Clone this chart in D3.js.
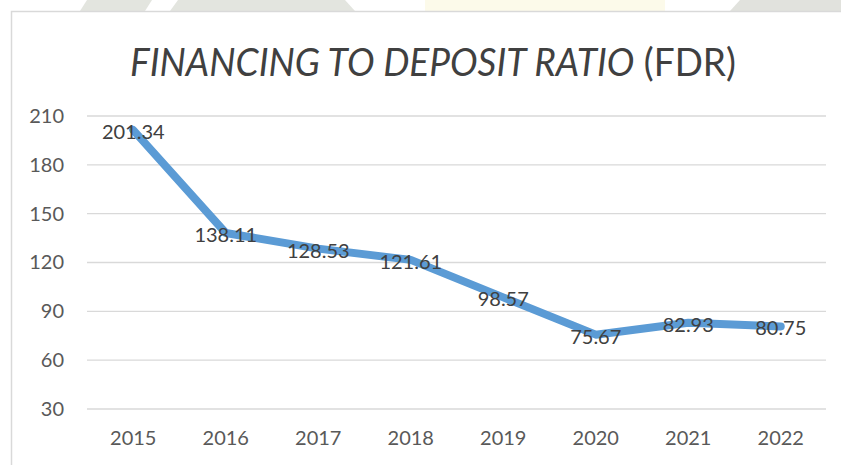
<!DOCTYPE html>
<html>
<head>
<meta charset="utf-8">
<script src="https://cdn.jsdelivr.net/npm/d3@7"></script>
<style>
  body { margin: 0; background: #fff; }
  svg { display: block; }
</style>
</head>
<body>
<main></main>
<script>
const years = ["2015", "2016", "2017", "2018", "2019", "2020", "2021", "2022"];
const fdr = [201.34, 138.11, 128.53, 121.61, 98.57, 75.67, 82.93, 80.75];
const yTicks = [30, 60, 90, 120, 150, 180, 210];

window.onload = () => {
    const width = 841, height = 465;
    const svg = d3.select("main").append("svg").attr("width", width).attr("height", height);

    // faint watermark strip above the chart frame
    const wm = svg.append("g");
    wm.append("polygon").attr("points", "87,0 152,0 145,11 80,11").attr("fill", "#e3e5df");
    wm.append("polygon").attr("points", "178,0 345,0 355,11 170,11").attr("fill", "#e3e5df");
    wm.append("rect").attr("x", 425).attr("y", 0).attr("width", 240).attr("height", 11).attr("fill", "#fcfaea");
    wm.append("polygon").attr("points", "740,0 841,0 841,11 730,11").attr("fill", "#e1e2dd");

    // chart frame
    svg.append("rect").attr("x", 11.5).attr("y", 11.5).attr("width", 900).attr("height", 500)
        .attr("fill", "#fff").attr("stroke", "#d9d9d9").attr("stroke-width", 1.5);

    const x = d3.scaleBand().domain(years).range([87, 827]);
    const y = d3.scaleLinear().domain([30, 210]).range([409, 116]);

    // title (Calibri-like, so squeeze a bit horizontally)
    const title = svg.append("text")
        .attr("transform", "translate(433,76) scale(0.95,1)")
        .attr("text-anchor", "middle")
        .attr("font-family", "Lato, 'Open Sans', sans-serif")
        .attr("font-size", 39)
        .attr("fill", "#404040");
    title.append("tspan").attr("font-style", "italic").text("FINANCING TO DEPOSIT RATIO");
    title.append("tspan").text(" (FDR)");

    // gridlines
    svg.append("g")
        .selectAll("line")
        .data(yTicks)
        .join("line")
        .attr("x1", 87).attr("x2", 826)
        .attr("y1", d => y(d)).attr("y2", d => y(d))
        .attr("stroke", "#d9d9d9").attr("stroke-width", 1.3);

    // y axis labels
    const yAxis = svg.append("g")
        .attr("transform", "translate(64,0)")
        .call(d3.axisLeft(y).tickValues(yTicks).tickSize(0).tickPadding(0));
    yAxis.select(".domain").remove();
    yAxis.selectAll("text")
        .attr("font-family", "Lato, 'Open Sans', sans-serif")
        .attr("font-size", 20)
        .attr("fill", "#595959");

    // x axis labels
    const xAxis = svg.append("g")
        .attr("transform", "translate(0,431)")
        .call(d3.axisBottom(x).tickSize(0).tickPadding(0));
    xAxis.select(".domain").remove();
    xAxis.selectAll("text")
        .attr("font-family", "Lato, 'Open Sans', sans-serif")
        .attr("font-size", 20)
        .attr("fill", "#595959");

    const pts = years.map((yr, i) => ({ year: yr, value: fdr[i] }));

    const line = d3.line()
        .x(d => x(d.year) + x.bandwidth() / 2)
        .y(d => y(d.value));

    svg.append("path")
        .datum(pts)
        .attr("d", line)
        .attr("fill", "none")
        .attr("stroke", "#5b9bd5")
        .attr("stroke-width", 8)
        .attr("stroke-linejoin", "round")
        .attr("stroke-linecap", "round");

    // data labels
    svg.append("g")
        .selectAll("text")
        .data(pts)
        .join("text")
        .attr("x", d => x(d.year) + x.bandwidth() / 2)
        .attr("y", d => y(d.value) + 9)
        .attr("text-anchor", "middle")
        .attr("font-family", "Lato, 'Open Sans', sans-serif")
        .attr("font-size", 20)
        .attr("fill", "#404040")
        .text(d => d.value.toFixed(2));
};
</script>
</body>
</html>
